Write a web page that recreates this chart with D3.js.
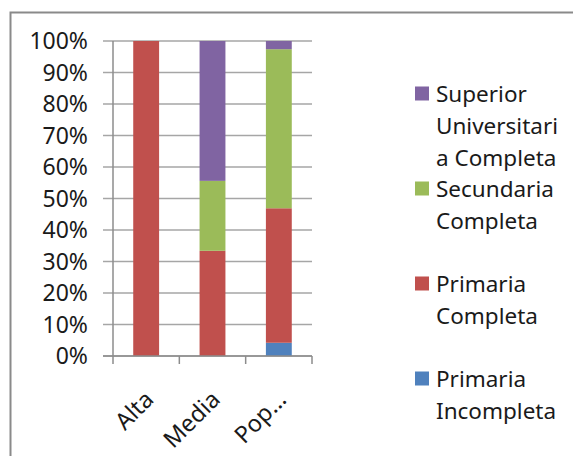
<!DOCTYPE html>
<html><head><meta charset="utf-8">
<script src="https://cdn.jsdelivr.net/npm/d3@7"></script>
<style>body{margin:0;background:#fff}svg{display:block}text{font-family:"Noto Sans",sans-serif;fill:#1a1a1a}</style>
</head><body><svg id="c" width="573" height="456"></svg>
<script>
const categories = ["Alta", "Media", "Pop..."];
const seriesNames = ["Primaria Incompleta", "Primaria Completa", "Secundaria Completa", "Superior Universitaria Completa"];
const primariaIncompleta = [0, 0, 0.042];
const primariaCompleta = [1, 0.334, 0.427];
const secundariaCompleta = [0, 0.222, 0.505];
const superiorUniversitaria = [0, 0.444, 0.026];
const yTicks = [0, 0.1, 0.2, 0.3, 0.4, 0.5, 0.6, 0.7, 0.8, 0.9, 1];
const legendLines = [
  ["Superior", "Universitari", "a Completa"],
  ["Secundaria", "Completa"],
  ["Primaria", "Completa"],
  ["Primaria", "Incompleta"]
];
const colors = ["#4F81BD", "#C0504D", "#9BBB59", "#8064A2"];

const svg = d3.select("#c");
// frame
svg.append("path").attr("d", "M10.5,460 V12.5 H580").attr("fill", "none").attr("stroke", "#8a8a8a").attr("stroke-width", 2);

const x = d3.scaleBand().domain(categories).range([113, 312]).paddingInner(0.61).paddingOuter(0.305);
const y = d3.scaleLinear().domain([0, 1]).range([356, 41]);

// gridlines
svg.append("g").selectAll("line").data(yTicks).join("line")
  .attr("x1", 103).attr("x2", 312).attr("y1", d => y(d)).attr("y2", d => y(d))
  .attr("stroke", "#a6a6a6").attr("stroke-width", 1.5);

const data = categories.map((c, i) => ({
  cat: c,
  "Primaria Incompleta": primariaIncompleta[i],
  "Primaria Completa": primariaCompleta[i],
  "Secundaria Completa": secundariaCompleta[i],
  "Superior Universitaria Completa": superiorUniversitaria[i]
}));
const stack = d3.stack().keys(seriesNames)(data);
svg.append("g").selectAll("g").data(stack).join("g").attr("fill", (d, i) => colors[i])
  .selectAll("rect").data(d => d).join("rect")
  .attr("x", d => x(d.data.cat)).attr("width", x.bandwidth())
  .attr("y", d => y(d[1])).attr("height", d => Math.max(0, y(d[0]) - y(d[1])));

// y axis line
svg.append("line").attr("x1", 113).attr("x2", 113).attr("y1", y(1)).attr("y2", 356).attr("stroke", "#8c8c8c").attr("stroke-width", 1.5);
// x axis
svg.append("line").attr("x1", 103).attr("x2", 312).attr("y1", 356).attr("y2", 356).attr("stroke", "#8c8c8c").attr("stroke-width", 1.5);
svg.append("g").selectAll("line").data(categories.concat(["end"])).join("line")
  .attr("x1", (d, i) => 113 + i * x.step()).attr("x2", (d, i) => 113 + i * x.step())
  .attr("y1", 356).attr("y2", 364).attr("stroke", "#8c8c8c").attr("stroke-width", 1.5);

// y labels
svg.append("g").selectAll("text").data(yTicks).join("text")
  .attr("x", 88).attr("y", d => y(d) + 8).attr("text-anchor", "end")
  .attr("font-size", 23).text(d3.format(".0%"));

// x labels
svg.append("g").selectAll("text").data(categories).join("text")
  .attr("text-anchor", "end").attr("font-size", 23.5)
  .attr("transform", d => `translate(${x(d) + x.bandwidth() / 2 + 9},${401}) rotate(-45)`)
  .text(d => d);

// legend
const lg = svg.append("g").selectAll("g").data(legendLines).join("g")
  .attr("transform", (d, i) => `translate(415,${86.5 + i * 95})`);
lg.append("rect").attr("width", 14).attr("height", 14).attr("fill", (d, i) => colors[3 - i]);
lg.append("text").attr("font-size", 22.5).selectAll("tspan").data(d => d).join("tspan")
  .attr("x", 21).attr("y", (d, i) => 15 + i * 32).text(d => d);
</script></body></html>
